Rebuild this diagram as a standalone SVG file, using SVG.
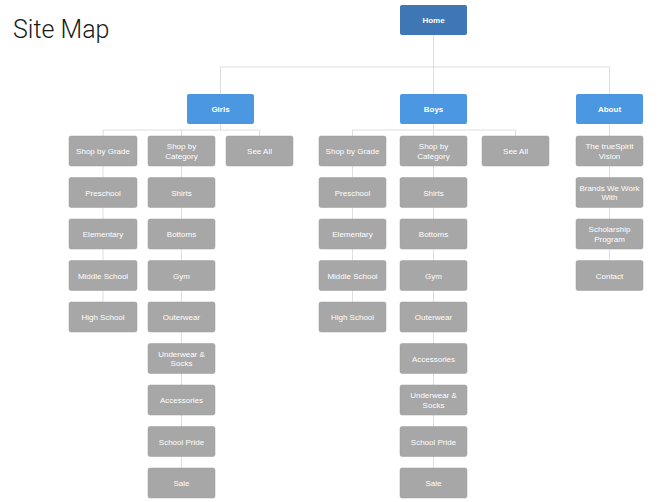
<svg xmlns="http://www.w3.org/2000/svg" width="669" height="502" viewBox="0 0 669 502">
<style>
.t{font-family:"Liberation Sans",Arial,sans-serif;font-size:8px;fill:#ffffff;text-anchor:middle}
.b{font-weight:bold}
.g rect{fill:#a7a7a7;stroke:#9c9c9c;stroke-width:0.5}
.home rect{fill:#3e77b3}
.sec rect{fill:#4b97e1}
.c{stroke:#dedede;stroke-width:1;fill:none}
</style>
<rect width="669" height="502" fill="#ffffff"/>
<text x="13" y="38" font-family="Roboto,'Liberation Sans',Arial,sans-serif" font-size="25" font-weight="300" fill="#1a1a1a">Site Map</text>
<g id="connectors">
<path class="c" d="M433.5 35V94M220.5 67H609.5M220.5 67V94M609.5 67V94"/>
<path class="c" d="M220.5 124V130M103 130H259.5M103 130V136M181.5 130V136M259.5 130V136"/>
<path class="c" d="M103 166V302M181.5 166V468"/>
<path class="c" d="M433.5 124V130M352.5 130H515.5M352.5 130V136M433.5 130V136M515.5 130V136"/>
<path class="c" d="M352.5 166V302M433.5 166V468"/>
<path class="c" d="M609.5 124V260"/>
</g>
<g id="home" class="home"><rect x="400" y="5" width="67" height="30" rx="2"/><text class="t b" x="433.5" y="23">Home</text></g>
<g id="girls" class="sec"><rect x="187" y="94" width="67" height="30" rx="2"/><text class="t b" x="220.5" y="112">Girls</text></g>
<g id="boys" class="sec"><rect x="400" y="94" width="67" height="30" rx="2"/><text class="t b" x="433.5" y="112">Boys</text></g>
<g id="about" class="sec"><rect x="576" y="94" width="67" height="30" rx="2"/><text class="t b" x="609.5" y="112">About</text></g>

<g id="g-grade" class="g"><rect x="69" y="136" width="68" height="30" rx="2"/><text class="t" x="103" y="154">Shop by Grade</text></g>
<g id="g-preschool" class="g"><rect x="69" y="177.5" width="68" height="30" rx="2"/><text class="t" x="103" y="195.5">Preschool</text></g>
<g id="g-elementary" class="g"><rect x="69" y="219" width="68" height="30" rx="2"/><text class="t" x="103" y="237">Elementary</text></g>
<g id="g-middle" class="g"><rect x="69" y="260.5" width="68" height="30" rx="2"/><text class="t" x="103" y="278.5">Middle School</text></g>
<g id="g-high" class="g"><rect x="69" y="302" width="68" height="30" rx="2"/><text class="t" x="103" y="320">High School</text></g>

<g id="g-category" class="g"><rect x="148" y="136" width="67" height="30" rx="2"/><text class="t" x="181.5" y="149">Shop by</text><text class="t" x="181.5" y="158.5">Category</text></g>
<g id="g-shirts" class="g"><rect x="148" y="177.5" width="67" height="30" rx="2"/><text class="t" x="181.5" y="195.5">Shirts</text></g>
<g id="g-bottoms" class="g"><rect x="148" y="219" width="67" height="30" rx="2"/><text class="t" x="181.5" y="237">Bottoms</text></g>
<g id="g-gym" class="g"><rect x="148" y="260.5" width="67" height="30" rx="2"/><text class="t" x="181.5" y="278.5">Gym</text></g>
<g id="g-outerwear" class="g"><rect x="148" y="302" width="67" height="30" rx="2"/><text class="t" x="181.5" y="320">Outerwear</text></g>
<g id="g-underwear" class="g"><rect x="148" y="343.5" width="67" height="30" rx="2"/><text class="t" x="181.5" y="356.5">Underwear &amp;</text><text class="t" x="181.5" y="366">Socks</text></g>
<g id="g-accessories" class="g"><rect x="148" y="385" width="67" height="30" rx="2"/><text class="t" x="181.5" y="403">Accessories</text></g>
<g id="g-pride" class="g"><rect x="148" y="426.5" width="67" height="30" rx="2"/><text class="t" x="181.5" y="444.5">School Pride</text></g>
<g id="g-sale" class="g"><rect x="148" y="468" width="67" height="30" rx="2"/><text class="t" x="181.5" y="486">Sale</text></g>
<g id="g-seeall" class="g"><rect x="226" y="136" width="67" height="30" rx="2"/><text class="t" x="259.5" y="154">See All</text></g>

<g id="b-grade" class="g"><rect x="319" y="136" width="67" height="30" rx="2"/><text class="t" x="352.5" y="154">Shop by Grade</text></g>
<g id="b-preschool" class="g"><rect x="319" y="177.5" width="67" height="30" rx="2"/><text class="t" x="352.5" y="195.5">Preschool</text></g>
<g id="b-elementary" class="g"><rect x="319" y="219" width="67" height="30" rx="2"/><text class="t" x="352.5" y="237">Elementary</text></g>
<g id="b-middle" class="g"><rect x="319" y="260.5" width="67" height="30" rx="2"/><text class="t" x="352.5" y="278.5">Middle School</text></g>
<g id="b-high" class="g"><rect x="319" y="302" width="67" height="30" rx="2"/><text class="t" x="352.5" y="320">High School</text></g>

<g id="b-category" class="g"><rect x="400" y="136" width="67" height="30" rx="2"/><text class="t" x="433.5" y="149">Shop by</text><text class="t" x="433.5" y="158.5">Category</text></g>
<g id="b-shirts" class="g"><rect x="400" y="177.5" width="67" height="30" rx="2"/><text class="t" x="433.5" y="195.5">Shirts</text></g>
<g id="b-bottoms" class="g"><rect x="400" y="219" width="67" height="30" rx="2"/><text class="t" x="433.5" y="237">Bottoms</text></g>
<g id="b-gym" class="g"><rect x="400" y="260.5" width="67" height="30" rx="2"/><text class="t" x="433.5" y="278.5">Gym</text></g>
<g id="b-outerwear" class="g"><rect x="400" y="302" width="67" height="30" rx="2"/><text class="t" x="433.5" y="320">Outerwear</text></g>
<g id="b-accessories" class="g"><rect x="400" y="343.5" width="67" height="30" rx="2"/><text class="t" x="433.5" y="361.5">Accessories</text></g>
<g id="b-underwear" class="g"><rect x="400" y="385" width="67" height="30" rx="2"/><text class="t" x="433.5" y="398">Underwear &amp;</text><text class="t" x="433.5" y="407.5">Socks</text></g>
<g id="b-pride" class="g"><rect x="400" y="426.5" width="67" height="30" rx="2"/><text class="t" x="433.5" y="444.5">School Pride</text></g>
<g id="b-sale" class="g"><rect x="400" y="468" width="67" height="30" rx="2"/><text class="t" x="433.5" y="486">Sale</text></g>
<g id="b-seeall" class="g"><rect x="482" y="136" width="67" height="30" rx="2"/><text class="t" x="515.5" y="154">See All</text></g>

<g id="a-vision" class="g"><rect x="576" y="136" width="67" height="30" rx="2"/><text class="t" x="609.5" y="149">The trueSpirit</text><text class="t" x="609.5" y="158.5">Vision</text></g>
<g id="a-brands" class="g"><rect x="576" y="177.5" width="67" height="30" rx="2"/><text class="t" x="609.5" y="190.5">Brands We Work</text><text class="t" x="609.5" y="200">With</text></g>
<g id="a-scholarship" class="g"><rect x="576" y="219" width="67" height="30" rx="2"/><text class="t" x="609.5" y="232">Scholarship</text><text class="t" x="609.5" y="241.5">Program</text></g>
<g id="a-contact" class="g"><rect x="576" y="260.5" width="67" height="30" rx="2"/><text class="t" x="609.5" y="278.5">Contact</text></g>
</svg>
